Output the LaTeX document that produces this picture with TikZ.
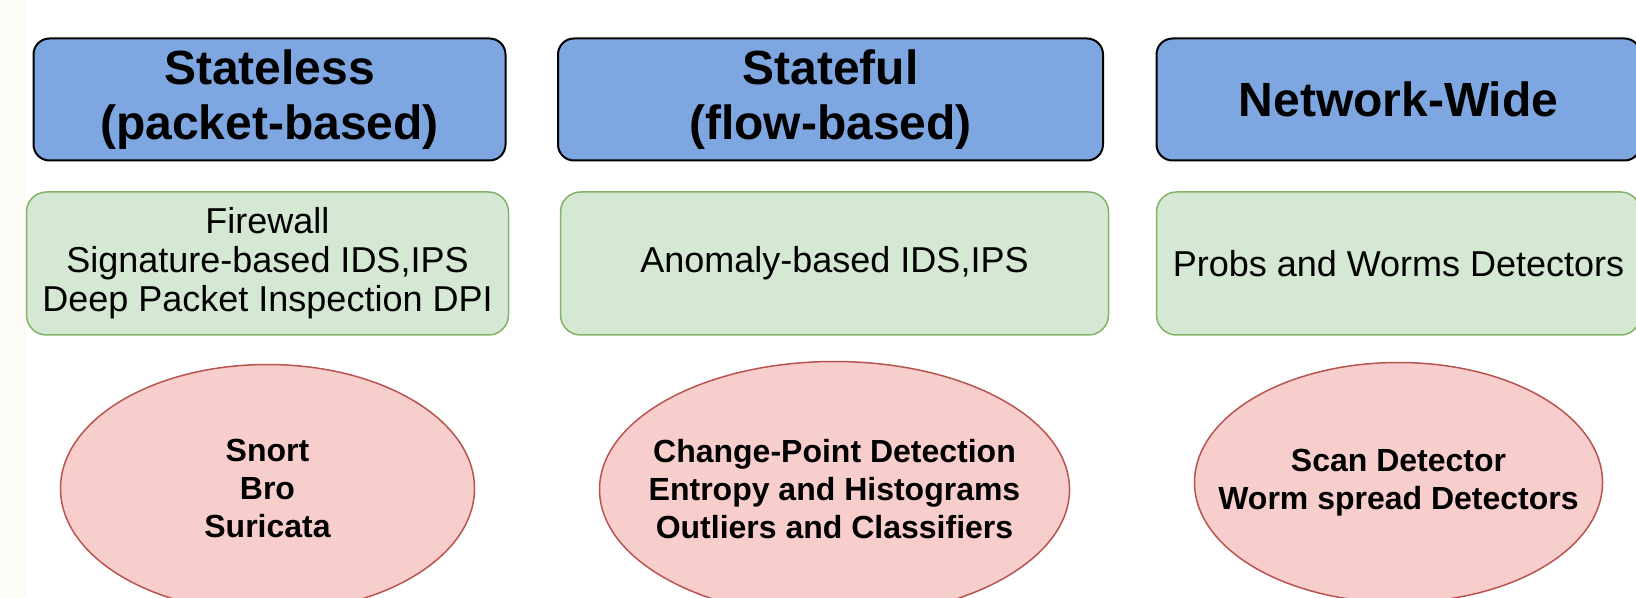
\documentclass[tikz,border=0pt]{standalone}
\usepackage{fontspec}
\setmainfont{Liberation Sans}
\usetikzlibrary{positioning,shapes.geometric}
\definecolor{headblue}{HTML}{7EA6E0}
\definecolor{toolgreen}{HTML}{D5E8D4}
\definecolor{toolgreenline}{HTML}{82B366}
\definecolor{sysred}{HTML}{F8CECC}
\definecolor{sysredline}{HTML}{B85450}
\definecolor{stripcol}{HTML}{FCFBF6}
\tikzset{
	node distance=2cm,
	on grid,
	category/.style={draw=black, line width=1pt, fill=headblue, rounded corners=8pt,
		minimum height=61pt, inner sep=0pt, align=center,
		font=\fontsize{24}{27.5}\selectfont\bfseries}, % top row
	tools/.style={draw=toolgreenline, line width=0.75pt, fill=toolgreen, rounded corners=10pt,
		minimum height=71.5pt, inner sep=0pt, align=center,
		font=\fontsize{18}{19.5}\selectfont}, % middle row
	system/.style={ellipse, draw=sysredline, line width=0.75pt, fill=sysred,
		inner xsep=-20pt, inner ysep=0pt, align=center,
		font=\fontsize{16}{19}\selectfont\bfseries}, % bottom row
}
\begin{document}
\begin{tikzpicture}
	\useasboundingbox (0,0) rectangle (818pt,-299pt);
	\fill[stripcol] (0,0) rectangle (13pt,-299pt);

	% categories
	\node[category, minimum width=236pt] (stateless) at (134.75pt,-49.75pt) {Stateless\\(packet-based)};
	\node[category, minimum width=272.5pt, right=280.5pt of stateless] (stateful) {Stateful\\(flow-based)};
	\node[category, minimum width=242pt, right=284pt of stateful] (netwide) {Network-Wide};

	% what is deployed
	\node[tools, minimum width=241pt, below=82pt of stateless, xshift=-1pt] (firewall) {Firewall\\Signature-based IDS,IPS\\Deep Packet Inspection DPI};
	\node[tools, minimum width=274pt, below=82pt of stateful, xshift=2pt] (anomaly) {Anomaly-based IDS,IPS};
	\node[tools, minimum width=242pt, below=82pt of netwide] (probs) {Probs and Worms Detectors};

	% examples
	\node[system, minimum width=207pt, minimum height=124pt, below=112.5pt of firewall] (snort) {Snort\\Bro\\Suricata};
	\node[system, minimum width=235pt, minimum height=128pt, below=113pt of anomaly] (changept) {Change-Point Detection\\Entropy and Histograms\\Outliers and Classifiers};
	\node[system, minimum width=204pt, minimum height=120pt, below=109.5pt of probs] (scan) {Scan Detector\\Worm spread Detectors};
\end{tikzpicture}
\end{document}
